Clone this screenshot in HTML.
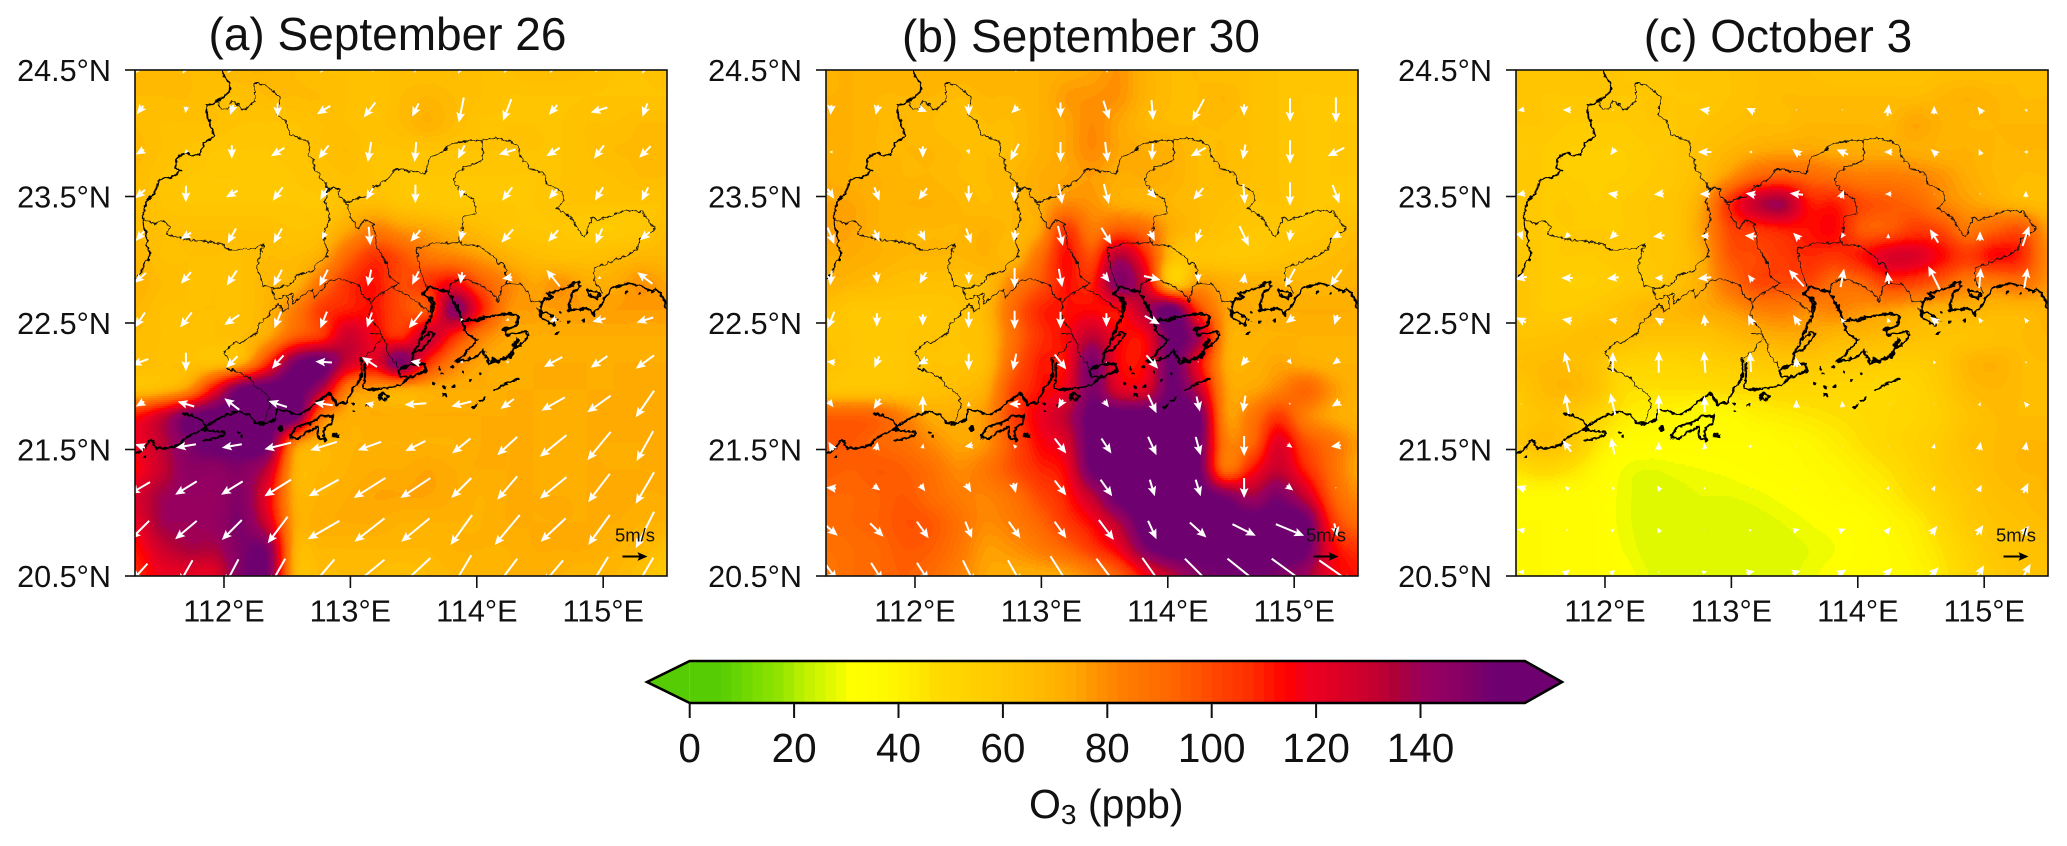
<!DOCTYPE html>
<html lang="en">
<head>
<meta charset="utf-8">
<title>O3 and wind maps</title>
<style>
html,body{margin:0;padding:0;background:#fff;width:2067px;height:846px;overflow:hidden}
svg{display:block}
text{font-family:"Liberation Sans",Arial,sans-serif;fill:#111}
.thin{fill:none;stroke:#111;stroke-width:3;stroke-linejoin:round}
.prov{fill:none;stroke:#000;stroke-width:5;stroke-linejoin:round}
.coast{fill:none;stroke:#000;stroke-width:6.5;stroke-linejoin:round;stroke-linecap:round}
.blob{fill:none;stroke:#000;stroke-width:14;stroke-linecap:round}
.dots{fill:none;stroke:#000;stroke-width:8;stroke-linecap:round}
</style>
</head>
<body>
<svg id="figure" xmlns="http://www.w3.org/2000/svg" width="2067" height="846" viewBox="0 0 2067 846">
<defs>
<clipPath id="clip-a"><rect x="135" y="70" width="532" height="506"/></clipPath>
<clipPath id="clip-b"><rect x="826" y="70" width="532" height="506"/></clipPath>
<clipPath id="clip-c"><rect x="1516" y="70" width="532" height="506"/></clipPath>
<filter id="rough" filterUnits="userSpaceOnUse" x="300" y="150" width="1800" height="1300" color-interpolation-filters="sRGB">
<feTurbulence type="fractalNoise" baseFrequency="0.07" numOctaves="2" seed="4"/>
<feDisplacementMap in="SourceGraphic" scale="16" xChannelSelector="R" yChannelSelector="G"/>
</filter>
<g id="map-lines" filter="url(#rough)">
<path class="prov" d="M665,212 L672,228 682,240 692,262 688,275 672,290 655,300 640,312 620,315 622,335 620,348 630,370 642,405 632,418 612,428 605,450 600,465 575,465 552,458 530,478 525,505 542,510 528,525 510,532 475,540 470,565 455,590 438,605 435,630 428,650 432,680 438,700 440,735 452,765 437,785 430,805 420,822 407,835"/>
<path class="thin" d="M650,305 L665,325 683,327 695,300 710,312 730,330 750,322 765,295 765,250 800,258 822,275 838,295 830,345 855,360 870,405 900,415 925,425 930,440 925,465 940,485 945,510 965,535 985,565 1015,565 1018,590 1040,605 1100,590 1120,560 1140,555 1165,535 1190,505 1225,515 1255,515 1275,525 1290,470 1325,458 1350,432 1400,425 1445,422 1490,413 1530,425 1555,440 1560,470 1595,510 1625,515 1645,555 1685,575 1695,600 1670,625 1710,650 1730,680 1750,712 1760,700 1775,650 1795,660 1810,655 1880,632 1925,635 1965,685 1920,720 1910,750 1860,775 1780,805 1785,850 1810,880"/>
<path class="thin" d="M1445,422 L1450,480 1395,500 1365,525 1362,540 1378,570 1420,600 1428,640 1390,652 1385,700 1375,728 1300,730 1250,745 1258,790 1270,840 1282,858"/>
<path class="thin" d="M1375,728 L1440,740 1480,770 1500,790 1515,800 1520,850 1560,852 1585,875 1595,905 1625,905"/>
<path class="thin" d="M1345,878 L1355,850 1385,835 1420,845 1450,860 1480,880 1495,905 1505,860 1520,850"/>
<path class="thin" d="M1345,878 L1370,925 1385,950"/>
<path class="thin" d="M988,565 L975,600 990,650 970,700 985,770 950,790 940,810 885,830 880,850 820,865 790,855 770,800 782,760 790,735 745,750 680,745 660,730 610,725 545,715 500,700 510,680 490,660 465,672 430,655"/>
<path class="thin" d="M815,865 L825,900 860,885 865,925 850,935 835,910 800,950 780,970 770,1000 730,1025 695,1030 672,1060 690,1085 680,1110 700,1110 750,1135 760,1155 800,1180 810,1220 790,1265"/>
<path class="thin" d="M860,885 L878,882 880,910 910,885 935,870 945,895 985,845 1020,835 1075,855 1090,890 1115,905 1110,950 1150,1010 1170,1070 1195,1100"/>
<path class="thin" d="M1040,605 L1050,650 1075,690 1090,660 1120,670 1130,740 1160,790 1170,830 1195,850 1145,880 1115,905"/>
<path class="thin" d="M1195,850 L1180,865 1230,890 1285,935"/>
<path class="thin" d="M1110,1000 L1150,1005 1120,1050 1085,1075"/>
<path class="coast" d="M405,1365 L430,1345 455,1320 470,1345 500,1345 540,1335 562,1310 590,1298 610,1285 640,1265 680,1245 720,1235 750,1245 770,1270 800,1270 825,1260 830,1230 860,1235 895,1245 925,1230 950,1205 990,1180 1010,1215 1040,1205 1060,1165 1085,1130 1085,1080"/>
<path class="coast" d="M550,1240 L585,1250 610,1265 615,1290"/>
<path class="coast" d="M1095,1090 L1095,1135 1090,1165 1120,1170 1150,1165 1170,1165 1205,1155 1225,1130 1240,1130 1280,1110 1270,1090 1225,1095 1195,1110 1200,1130 1225,1130"/>
<path class="coast" d="M1235,1085 L1240,1060 1260,1025 1290,995 1300,1000 1290,1020 1265,1050 1240,1055"/>
<path class="coast" d="M1260,1020 L1275,985 1305,920 1270,880 1290,860 1345,875 1370,920 1385,960 1430,960 1466,950 1526,940 1556,950 1551,975 1516,990 1521,1005 1576,995 1586,1005 1566,1030 1546,1045 1526,1070 1496,1080 1466,1090 1450,1050 1420,1075 1370,1085 1405,1050 1430,1020 1400,1000 1385,960"/>
<path class="coast" d="M1265,880 L1305,905 1290,935"/>
<path class="coast" d="M1616,930 L1631,960 1661,975 1666,955 1641,935 1621,940 1626,905 1656,890 1641,880 1666,875 1706,860 1736,845 1741,860 1716,880 1706,930 1756,925 1771,930 1781,945 1811,900 1836,865 1881,850 1916,855 1956,875 1966,865 1991,895 1996,920 2001,925"/>
<path class="coast" d="M1761,870 L1800,880 1795,895 1765,885 1761,870"/>
<path class="coast" d="M870,1312 L885,1285 905,1275 930,1270 960,1250 1000,1245 995,1268 970,1290 975,1322 952,1310 955,1280 915,1300 895,1315 870,1312"/>
<path class="coast" d="M620,1290 L672,1295 675,1305 625,1320 610,1322"/>
<path class="coast" d="M1480,1170 L1555,1135"/>
<path class="coast" d="M1420,1225 L1430,1215 M1440,1205 L1455,1195"/>
<path class="coast" d="M1138,1190 L1150,1178 1165,1190 1150,1204 1138,1190"/>
<path class="blob" d="M1511,988 L1528,985 M1550,1020 L1545,1038 M1480,1080 L1495,1085 M1000,1305 L1012,1308 M840,1285 L842,1287 M1530,1070 L1536,1060"/>
<path class="dots" d="M715,1297h1 M725,1310h1 M1060,1210h1 M1100,1215h6 M1320,1105h1 M1355,1100h1 M1390,1115h1 M1300,1150h6 M1330,1160h6 M1330,1185h6 M1410,1140h1 M1440,1120h1 M1325,1120h1 M1360,1160h4 M1060,1235h1 M1670,1000h1 M1675,960h1 M1680,938h1 M1705,965h1 M1750,960h1 M1880,877h1 M1920,880h1 M1995,910h1 M435,1372h1"/>
</g>
</defs>

<rect x="0" y="0" width="2067" height="846" fill="#fff"/>

<text x="387.5" y="50" font-size="46" text-anchor="middle">(a) September 26</text>
<text x="1081" y="52" font-size="46" text-anchor="middle">(b) September 30</text>
<text x="1778" y="52" font-size="46" text-anchor="middle">(c) October 3</text>

<g id="panels"></g>
<g id="colorbar"></g>

<text x="1029" y="818" font-size="41">O<tspan font-size="28" dy="6">3</tspan><tspan dy="-6"> (ppb)</tspan></text>
</svg>

<script>
// O3 fields (ppb), 21 columns x 20 rows
const o3A = [
[66,66,66,66,68,68,66,64,64,64,64,64,64,64,64,66,66,64,62,62,64],
[66,66,66,64,64,66,66,66,64,62,66,68,66,64,62,62,62,62,62,62,62],
[66,64,64,64,62,62,62,64,64,63,66,70,66,62,62,62,62,64,64,66,66],
[67,64,62,60,60,60,61,64,66,62,62,62,62,62,62,62,62,64,66,66,66],
[66,62,60,60,60,60,60,62,64,62,60,60,60,60,60,60,62,63,64,66,66],
[66,62,60,60,60,60,60,60,64,66,62,60,59,60,60,60,62,62,62,62,62],
[66,64,64,64,64,64,62,64,74,84,78,74,70,66,62,60,60,58,58,60,66],
[68,64,64,64,64,66,66,72,92,106,98,86,82,76,70,66,64,64,66,68,68],
[70,66,64,64,64,68,70,88,106,112,100,106,116,96,82,74,78,72,72,78,74],
[68,64,64,64,64,70,84,104,110,112,100,98,146,112,80,76,76,76,76,76,76],
[66,64,64,64,66,74,95,106,128,116,108,130,108,84,74,72,72,72,72,72,72],
[66,64,64,64,72,108,150,158,128,120,150,108,84,74,72,72,72,72,72,72,72],
[64,68,80,118,155,160,160,135,84,76,72,72,72,72,72,72,72,72,72,72,72],
[112,128,152,160,160,160,158,88,72,72,72,72,72,72,72,72,70,72,72,72,72],
[118,132,150,158,160,155,85,70,70,70,70,70,70,72,72,72,72,72,72,72,72],
[115,130,145,145,148,130,72,68,70,72,72,74,72,72,72,72,70,72,72,72,72],
[125,138,142,142,148,118,72,70,72,74,74,74,72,70,72,72,72,72,74,72,72],
[120,138,140,142,150,125,74,72,72,72,70,70,70,70,72,72,72,72,72,70,70],
[112,128,136,136,150,148,72,68,68,68,68,68,70,70,70,72,72,72,70,68,64],
[108,118,120,122,150,150,70,66,66,66,64,66,68,68,70,70,70,68,68,64,58]
];
const o3B = [
[70,70,70,70,70,70,70,70,70,72,74,78,70,66,66,64,64,62,62,62,62],
[70,70,68,68,68,66,68,68,70,76,78,78,70,66,66,68,64,62,60,60,60],
[72,70,68,68,66,64,66,66,70,74,80,74,68,66,66,66,64,62,60,60,60],
[72,70,68,68,68,66,66,66,70,74,80,74,72,70,66,66,64,62,60,60,60],
[72,70,70,68,68,66,66,68,72,74,76,72,72,70,66,66,64,62,60,60,60],
[74,74,70,70,70,68,66,68,72,80,78,72,70,68,66,64,62,62,60,60,60],
[76,74,70,68,68,68,70,68,74,105,85,96,90,72,66,62,60,60,60,62,66],
[72,72,70,68,68,68,70,68,88,113,100,135,110,65,62,60,60,62,64,66,68],
[70,68,66,64,64,64,66,82,96,112,110,148,125,60,76,72,70,70,68,68,70],
[64,60,60,60,60,62,68,90,108,112,114,114,135,158,104,76,72,72,72,72,72],
[62,60,60,60,62,62,66,88,106,114,132,116,116,155,138,76,70,70,70,70,70],
[64,60,60,60,62,62,66,92,110,114,152,116,116,155,118,74,70,74,72,70,70],
[62,62,62,62,64,66,72,100,112,120,150,124,124,155,132,78,74,82,92,78,70],
[94,94,92,82,72,72,78,102,118,132,158,160,160,160,155,80,86,104,84,74,70],
[96,96,92,88,80,74,78,98,114,124,158,160,160,160,155,86,92,122,100,88,76],
[95,94,96,94,88,80,86,98,108,116,155,160,160,160,155,90,112,130,110,90,74],
[92,92,94,96,90,84,82,88,100,110,132,158,160,160,160,150,138,150,130,96,80],
[90,92,94,98,96,88,80,84,92,104,115,135,160,160,160,160,160,160,158,108,90],
[88,90,92,96,94,86,76,78,84,92,104,118,148,160,160,160,160,160,156,118,106],
[86,90,92,94,90,82,74,72,72,74,82,94,115,132,148,152,152,150,140,118,112]
];
const o3C = [
[62,62,62,62,60,60,60,62,62,64,64,64,62,62,62,62,64,64,64,66,64],
[62,60,60,60,60,60,60,60,62,64,66,66,66,66,66,66,68,70,68,66,66],
[60,60,58,58,58,60,60,62,64,66,66,68,68,68,68,74,70,68,68,68,68],
[60,58,56,56,56,58,60,64,68,72,74,74,72,72,72,72,70,70,68,68,68],
[60,58,56,56,56,58,60,66,78,92,96,92,88,84,84,82,78,72,68,66,66],
[60,58,58,56,58,60,62,74,106,130,138,112,110,100,96,92,82,76,72,68,66],
[60,58,58,58,58,60,62,76,100,106,110,112,114,96,96,104,100,86,94,98,76],
[60,58,58,58,60,60,62,72,96,100,104,108,106,112,124,124,114,104,114,108,80],
[62,58,56,56,58,60,64,72,88,100,100,100,90,92,104,102,94,84,84,88,78],
[62,58,58,60,64,68,68,72,76,82,84,80,82,78,76,72,70,70,68,68,70],
[62,62,64,66,64,62,62,62,66,70,72,72,68,68,66,64,62,62,64,66,68],
[64,66,66,62,54,52,52,54,56,58,60,60,58,58,56,56,60,68,70,66,66],
[60,66,68,62,48,46,46,46,48,48,50,50,50,50,50,52,58,66,68,66,64],
[58,62,60,52,44,40,38,36,36,40,42,44,46,48,50,52,56,62,66,66,66],
[60,64,60,46,36,34,34,34,34,34,36,38,42,46,50,54,58,64,66,68,68],
[46,50,46,38,30,28,29,30,31,33,34,36,38,42,46,52,58,62,66,68,68],
[36,36,35,34,29,27,27,28,28,29,31,33,36,38,42,48,54,60,64,66,68],
[36,36,35,34,29,27,27,27,27,27,28,30,32,34,38,42,50,58,62,64,66],
[36,36,35,34,30,27,27,27,27,27,27,28,30,33,36,40,46,54,60,62,64],
[36,36,35,34,32,28,27,27,27,27,27,29,32,34,36,38,44,52,58,62,64]
];

// Wind components in units of 1/15 m/s, 12 columns x 13 rows; eastward and southward
const windEastA = [
[-25,-20,-25,-35,-20,-35,-5,-20,-20,-20,-25,-15],
[-20,-3,-10,0,-40,-35,-20,-15,-25,-25,-50,-15],
[-25,-10,0,-40,-30,-10,-5,-20,-50,-40,-30,-35],
[-30,0,-35,-30,-20,-20,0,-5,-30,-25,-25,-20],
[-25,-30,-25,-25,-10,5,-30,-8,-35,-30,-20,-30],
[-35,-30,-30,-25,-25,-10,-20,-5,-30,-40,-10,-45],
[-30,-35,-45,-20,-20,-15,-40,-5,-10,-20,-40,-50],
[-50,0,-35,-35,-50,-45,-30,-10,-10,-55,-50,-55],
[-25,-50,-45,-55,-55,-25,-65,-60,-40,-70,-70,-55],
[-30,-60,-60,-80,-80,-70,-60,-55,-60,-80,-70,-50],
[-60,-65,-65,-80,-90,-95,-90,-60,-60,-80,-65,-55],
[-55,-65,-60,-60,-95,-90,-85,-65,-75,-75,-65,-55],
[-45,-40,-40,-45,-65,-90,-90,-60,-60,-60,-55,-50]
];
const windSouthA = [
[30,35,30,15,30,5,30,35,30,30,25,35],
[25,20,30,40,25,45,40,75,65,30,15,40],
[15,10,40,25,40,60,60,40,15,25,40,35],
[25,50,20,40,35,35,55,25,40,30,40,40],
[30,20,45,45,20,55,35,30,40,35,45,25],
[30,35,45,50,50,50,40,35,5,-50,5,-35],
[45,45,30,50,50,45,50,10,5,10,10,15],
[18,55,35,40,-3,-30,-5,0,0,30,35,40],
[15,-15,-35,-18,-8,-5,5,15,30,40,50,80],
[-10,10,10,20,25,25,30,45,55,65,85,90],
[35,40,40,50,50,60,60,60,70,65,85,95],
[55,55,60,80,55,70,70,90,90,70,90,110],
[50,70,76,80,76,74,84,100,80,70,90,85]
];
const windEastB = [
[3,3,0,-3,10,0,5,5,-5,0,0,3],
[-3,-8,25,0,-20,0,18,5,-35,0,0,0],
[-10,0,0,5,-25,0,8,-3,-45,-8,0,-50],
[20,15,-25,0,-3,10,15,25,-30,5,0,20],
[20,15,15,15,-5,15,30,15,-15,28,-5,-25],
[-5,5,-20,0,0,10,20,50,0,5,-30,-35],
[-20,0,0,0,0,0,0,45,0,0,-25,-10],
[-25,-15,-30,0,-10,35,0,35,0,-20,10,-20],
[15,-20,0,0,-35,-15,15,25,10,-8,5,-25],
[-15,5,3,-25,-10,35,30,25,15,0,15,-30],
[-30,20,15,15,8,35,35,15,15,0,20,0],
[40,40,35,20,35,35,45,25,50,70,85,10],
[35,35,35,35,40,60,60,60,80,100,110,100]
];
const windSouthB = [
[20,20,20,20,25,20,30,20,20,20,20,20],
[30,30,10,35,20,45,55,60,65,35,70,75],
[0,5,35,15,50,60,60,50,25,45,70,25],
[30,40,35,50,45,60,60,25,35,60,70,55],
[50,35,30,45,35,60,50,30,40,60,35,15],
[45,35,35,35,60,55,25,12,25,-30,55,50],
[50,40,35,50,55,50,40,25,3,2,20,30],
[-3,35,15,50,50,45,-5,40,5,25,15,15],
[20,30,-50,-15,0,25,20,55,45,50,5,15],
[-25,-25,-15,5,-10,45,45,55,55,60,10,5],
[-3,15,20,25,30,45,50,50,50,60,15,5],
[35,40,50,50,50,50,60,55,45,35,35,40],
[50,55,55,70,70,95,80,85,80,80,80,70]
];
const windEastC = [
[0,-3,-3,0,-3,-3,0,0,3,0,-3,-3],
[-20,-25,-5,0,-30,-25,0,0,5,0,-15,-8],
[-3,-3,-15,-2,-40,-10,-25,-35,-25,-20,-8,-12],
[-25,-3,-30,-30,-30,-30,-40,10,-20,-3,-5,0],
[10,-15,-20,-35,-25,-35,-20,-10,0,-25,0,20],
[-35,-35,-35,-25,-40,-15,-45,10,-5,-35,5,10],
[-30,-30,-25,-25,-5,-15,-20,-10,-5,-25,-10,-10],
[-3,-15,0,0,-5,-3,-5,0,0,-5,0,-5],
[-3,-10,-15,0,0,0,0,-3,2,2,5,-12],
[-3,-25,-10,0,-3,5,2,2,2,5,5,5],
[-30,-12,-8,-10,0,3,3,2,5,8,10,15],
[-22,-8,10,-8,2,8,20,20,15,20,20,20],
[-20,20,15,5,15,25,25,25,25,28,25,28]
];
const windSouthC = [
[3,3,3,3,5,3,3,3,-3,-3,3,3],
[5,0,0,5,-5,-12,5,5,-35,-25,-20,-6],
[0,0,20,2,0,0,-20,-15,0,-18,-18,0],
[5,0,-5,3,0,-5,-5,-25,0,2,0,-20],
[25,15,20,5,0,-3,-20,15,-15,-40,-28,-60],
[8,0,5,0,5,-20,-50,-55,-35,-70,-60,-60],
[-15,-5,-5,-15,-35,-30,-30,-15,-15,-20,-15,-15],
[0,-60,-60,-65,-65,-60,-30,-3,-3,-10,-2,-5],
[-3,-60,-65,-55,-50,-5,-25,-20,-3,-3,-10,-15],
[-3,-35,-50,-25,-20,-10,-3,-3,-3,-15,-25,-25],
[-10,-10,-8,-15,-8,-3,-3,-3,-10,-15,-20,-30],
[-5,0,-8,-15,-2,-5,-5,-8,-18,-25,-30,-25],
[0,-15,-12,0,-5,-5,-8,-15,-25,-28,-40,-50]
];

// Tick values and labels
const lonTicks = [112, 113, 114, 115];
const lonLabels = ['112°E', '113°E', '114°E', '115°E'];
const latTicks = [24.5, 23.5, 22.5, 21.5, 20.5];
const latLabels = ['24.5°N', '23.5°N', '22.5°N', '21.5°N', '20.5°N'];
const colorbarTicks = [0, 20, 40, 60, 80, 100, 120, 140];
const colorbarLabels = ['0', '20', '40', '60', '80', '100', '120', '140'];
const panelKeys = ['a', 'b', 'c'];
const panelLefts = [135, 826, 1516];

const SVGNS = 'http://www.w3.org/2000/svg';
const PANEL_W = 532, PANEL_H = 506, PANEL_TOP = 70, PANEL_BOTTOM = 576;
const LEVEL_STEP = 2;
const WIND_PX = 1 / 3;

const stops = [[0,'#56cc05'],[5.7,'#56cc05'],[13.4,'#7ede00'],[17.9,'#96e600'],[22,'#c0f000'],[26,'#d8f800'],[31,'#ffff00'],[37.7,'#fff800'],[44,'#ffe800'],[47,'#ffdc00'],[52,'#ffd400'],[58,'#ffca00'],[65,'#ffbe00'],[73,'#ffaa00'],[78.5,'#ff9000'],[84,'#ff7a00'],[92,'#ff6800'],[98,'#ff5000'],[102,'#ff4000'],[107,'#ff3000'],[112,'#ff0f00'],[114,'#ff0000'],[119,'#ee0020'],[124,'#dd0025'],[131,'#c40030'],[135,'#b00038'],[141,'#980060'],[147.5,'#880062'],[154,'#6e0070'],[160,'#6e0070']];

function hexRgb(h) {
  return [parseInt(h.slice(1, 3), 16), parseInt(h.slice(3, 5), 16), parseInt(h.slice(5, 7), 16)];
}
const stopRgb = stops.map(function (s) { return hexRgb(s[1]); });
function colorFor(v) {
  if (v <= stops[0][0]) return stops[0][1];
  for (let i = 1; i < stops.length; i++) {
    if (v <= stops[i][0]) {
      const t = (v - stops[i - 1][0]) / (stops[i][0] - stops[i - 1][0]);
      const a = stopRgb[i - 1], b = stopRgb[i];
      return 'rgb(' + Math.round(a[0] + (b[0] - a[0]) * t) + ',' + Math.round(a[1] + (b[1] - a[1]) * t) + ',' + Math.round(a[2] + (b[2] - a[2]) * t) + ')';
    }
  }
  return stops[stops.length - 1][1];
}

// Axis functions
function lonToX(lon, left) { return left + (lon - 111.296) * 126.4; }
function latToY(lat) { return PANEL_BOTTOM - (lat - 20.5) * 126.5; }
function ppbToX(v) { return 689.7 + v * 5.22; }

function cr(p0, p1, p2, p3, t) {
  return 0.5 * (2 * p1 + (p2 - p0) * t + (2 * p0 - 5 * p1 + 4 * p2 - p3) * t * t + (3 * p1 - p0 - 3 * p2 + p3) * t * t * t);
}

function drawField(parent, grid, left) {
  const nCols = grid[0].length, nRows = grid.length;
  const rowStep = 2;
  for (let py = 0; py < PANEL_H; py += rowStep) {
    const fy = (py + rowStep / 2) / (PANEL_H / (nRows - 1));
    const j = Math.min(nRows - 2, Math.floor(fy));
    const ty = fy - j;
    const r0 = grid[Math.max(0, j - 1)], r1 = grid[j], r2 = grid[j + 1], r3 = grid[Math.min(nRows - 1, j + 2)];
    const col = new Array(nCols);
    for (let i = 0; i < nCols; i++) col[i] = cr(r0[i], r1[i], r2[i], r3[i], ty);
    let runStart = 0, runLevel = null;
    for (let px = 0; px <= PANEL_W; px++) {
      let level = null;
      if (px < PANEL_W) {
        const fx = (px + 0.5) / (PANEL_W / (nCols - 1));
        const i = Math.min(nCols - 2, Math.floor(fx));
        const v = cr(col[Math.max(0, i - 1)], col[i], col[i + 1], col[Math.min(nCols - 1, i + 2)], fx - i);
        level = Math.floor(v / LEVEL_STEP);
      }
      if (level !== runLevel) {
        if (runLevel !== null) {
          const cell = document.createElementNS(SVGNS, 'rect');
          
          
          cell.setAttribute('x', left + runStart);
          cell.setAttribute('y', PANEL_TOP + py);
          cell.setAttribute('width', px - runStart);
          cell.setAttribute('height', rowStep);
          cell.setAttribute('fill', colorFor((runLevel + 0.5) * LEVEL_STEP));
          cell.setAttribute('shape-rendering', 'crispEdges');
          parent.appendChild(cell);
        }
        runStart = px;
        runLevel = level;
      }
    }
  }
}

function arrowPath(cx, cy, dx, dy) {
  const L = Math.hypot(dx, dy);
  if (L < 0.3) return '';
  const ux = dx / L, uy = dy / L, nx = -uy, ny = ux;
  const tx = cx + dx / 2, ty = cy + dy / 2, bx = cx - dx / 2, by = cy - dy / 2;
  const hl = Math.min(10, L);
  const hw = 4.4 * hl / 10;
  const sw = 1 * Math.min(1, L / 10);
  const hx = tx - ux * hl, hy = ty - uy * hl;
  const nb = hl * 0.85;
  const sx = tx - ux * nb, sy = ty - uy * nb;
  const f = function (v) { return v.toFixed(1); };
  return 'M' + f(bx + nx * sw) + ',' + f(by + ny * sw) +
    'L' + f(sx + nx * sw) + ',' + f(sy + ny * sw) +
    'L' + f(hx + nx * hw) + ',' + f(hy + ny * hw) +
    'L' + f(tx) + ',' + f(ty) +
    'L' + f(hx - nx * hw) + ',' + f(hy - ny * hw) +
    'L' + f(sx - nx * sw) + ',' + f(sy - ny * sw) +
    'L' + f(bx - nx * sw) + ',' + f(by - ny * sw) + 'Z';
}

function drawPanel(root, key, left, grid, east, south) {
  const panel = document.createElementNS(SVGNS, 'g');
  
  
  root.appendChild(panel);

  const clipped = document.createElementNS(SVGNS, 'g');
  
  
  clipped.setAttribute('clip-path', 'url(#clip-' + key + ')');
  panel.appendChild(clipped);

  drawField(clipped, grid, left);

  const lines = document.createElementNS(SVGNS, 'use');
  
  
  lines.setAttribute('href', '#map-lines');
  lines.setAttribute('transform', 'translate(' + (left - 135) + ',0) scale(0.33333)');
  clipped.appendChild(lines);

  for (let r = 0; r < east.length; r++) {
    for (let c = 0; c < east[r].length; c++) {
      const d = arrowPath(left + 5 + 45.9 * c, 68 + 42 * r, east[r][c] * WIND_PX, south[r][c] * WIND_PX);
      if (!d) continue;
      const arrow = document.createElementNS(SVGNS, 'path');
      
      
      arrow.setAttribute('d', d);
      arrow.setAttribute('fill', '#fff');
      clipped.appendChild(arrow);
    }
  }

  const keyLabel = document.createElementNS(SVGNS, 'text');
  
  
  keyLabel.setAttribute('x', left + 500);
  keyLabel.setAttribute('y', 541.5);
  keyLabel.setAttribute('font-size', '18.5');
  keyLabel.setAttribute('text-anchor', 'middle');
  keyLabel.textContent = '5m/s';
  panel.appendChild(keyLabel);

  const keyArrow = document.createElementNS(SVGNS, 'path');
  
  
  keyArrow.setAttribute('d', arrowPath(left + 500, 556.5, 25, 0));
  keyArrow.setAttribute('fill', '#000');
  panel.appendChild(keyArrow);

  const frame = document.createElementNS(SVGNS, 'rect');
  
  
  frame.setAttribute('x', left);
  frame.setAttribute('y', PANEL_TOP);
  frame.setAttribute('width', PANEL_W);
  frame.setAttribute('height', PANEL_H);
  frame.setAttribute('fill', 'none');
  frame.setAttribute('stroke', '#111');
  frame.setAttribute('stroke-width', '1.6');
  panel.appendChild(frame);

  latTicks.forEach(function (lat, i) {
    const y = latToY(lat);
    const tick = document.createElementNS(SVGNS, 'line');
    
    
    tick.setAttribute('x1', left - 10);
    tick.setAttribute('x2', left);
    tick.setAttribute('y1', y);
    tick.setAttribute('y2', y);
    tick.setAttribute('stroke', '#111');
    tick.setAttribute('stroke-width', '1.6');
    panel.appendChild(tick);
    const label = document.createElementNS(SVGNS, 'text');
    
    
    label.setAttribute('x', left - 24);
    label.setAttribute('y', y + 11);
    label.setAttribute('font-size', '30.6');
    label.setAttribute('text-anchor', 'end');
    label.textContent = latLabels[i];
    panel.appendChild(label);
  });

  lonTicks.forEach(function (lon, i) {
    const x = lonToX(lon, left);
    const tick = document.createElementNS(SVGNS, 'line');
    
    
    tick.setAttribute('x1', x);
    tick.setAttribute('x2', x);
    tick.setAttribute('y1', PANEL_BOTTOM);
    tick.setAttribute('y2', PANEL_BOTTOM + 12);
    tick.setAttribute('stroke', '#111');
    tick.setAttribute('stroke-width', '1.6');
    panel.appendChild(tick);
    const label = document.createElementNS(SVGNS, 'text');
    
    
    label.setAttribute('x', x);
    label.setAttribute('y', 621.5);
    label.setAttribute('font-size', '30.6');
    label.setAttribute('text-anchor', 'middle');
    label.textContent = lonLabels[i];
    panel.appendChild(label);
  });
}

function drawColorbar(root) {
  const top = 661, bottom = 703;
  for (let v = 0; v < 160; v += LEVEL_STEP) {
    const x0 = ppbToX(v), x1 = ppbToX(v + LEVEL_STEP);
    const band = document.createElementNS(SVGNS, 'rect');
    
    
    band.setAttribute('x', x0.toFixed(2));
    band.setAttribute('y', top);
    band.setAttribute('width', (x1 - x0 + 0.6).toFixed(2));
    band.setAttribute('height', bottom - top);
    band.setAttribute('fill', colorFor(v + LEVEL_STEP / 2));
    root.appendChild(band);
  }
  const xMin = ppbToX(0), xMax = ppbToX(160);
  const leftCap = document.createElementNS(SVGNS, 'polygon');
  
  
  leftCap.setAttribute('points', xMin + ',' + top + ' 647,682 ' + xMin + ',' + bottom);
  leftCap.setAttribute('fill', colorFor(0));
  root.appendChild(leftCap);
  const rightCap = document.createElementNS(SVGNS, 'polygon');
  
  
  rightCap.setAttribute('points', xMax + ',' + top + ' 1562,682 ' + xMax + ',' + bottom);
  rightCap.setAttribute('fill', colorFor(160));
  root.appendChild(rightCap);
  const outline = document.createElementNS(SVGNS, 'polygon');
  
  
  outline.setAttribute('points', '647,682 ' + xMin + ',' + top + ' ' + xMax + ',' + top + ' 1562,682 ' + xMax + ',' + bottom + ' ' + xMin + ',' + bottom);
  outline.setAttribute('fill', 'none');
  outline.setAttribute('stroke', '#000');
  outline.setAttribute('stroke-width', '2.6');
  root.appendChild(outline);
  colorbarTicks.forEach(function (v, i) {
    const x = ppbToX(v);
    const tick = document.createElementNS(SVGNS, 'line');
    
    
    tick.setAttribute('x1', x);
    tick.setAttribute('x2', x);
    tick.setAttribute('y1', bottom);
    tick.setAttribute('y2', bottom + 15);
    tick.setAttribute('stroke', '#111');
    tick.setAttribute('stroke-width', '2');
    root.appendChild(tick);
    const label = document.createElementNS(SVGNS, 'text');
    
    
    label.setAttribute('x', x);
    label.setAttribute('y', 762);
    label.setAttribute('font-size', '40.5');
    label.setAttribute('text-anchor', 'middle');
    label.textContent = colorbarLabels[i];
    root.appendChild(label);
  });
}

const panelsRoot = document.getElementById('panels');
drawPanel(panelsRoot, panelKeys[0], panelLefts[0], o3A, windEastA, windSouthA);
drawPanel(panelsRoot, panelKeys[1], panelLefts[1], o3B, windEastB, windSouthB);
drawPanel(panelsRoot, panelKeys[2], panelLefts[2], o3C, windEastC, windSouthC);
drawColorbar(document.getElementById('colorbar'));
</script>
</body>
</html>
